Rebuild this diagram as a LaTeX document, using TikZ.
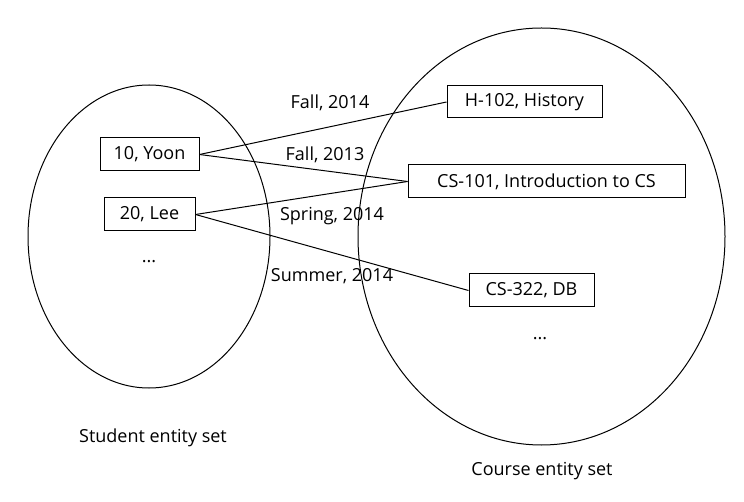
\documentclass[tikz,border=0pt]{standalone}
\usepackage{fontspec}
\setmainfont{Open Sans}
\begin{document}
\begin{tikzpicture}[x=1pt,y=-1pt,
  ent/.style={draw, line width=1pt, inner sep=0pt, anchor=center, font=\fontsize{18}{22}\selectfont},
  lbl/.style={font=\fontsize{18}{22}\selectfont, inner sep=0pt},
  conn/.style={line width=1pt},
  set/.style={draw, line width=1pt}]
\useasboundingbox (0,0) rectangle (744,502);
% entity sets
\draw[set] (149,236.5) ellipse [x radius=121, y radius=151.5];
\draw[set] (541.5,236.5) ellipse [x radius=183.5, y radius=208.5];
% entities
\node[ent, minimum width=99pt, minimum height=33pt] (yoon) at (149.5,154.5) {10, Yoon};
\node[ent, minimum width=91pt, minimum height=33pt] (lee) at (149.5,214.5) {20, Lee};
\node[ent, minimum width=155pt, minimum height=32pt] (hist) at (524.5,102) {H-102, History};
\node[ent, minimum width=277pt, minimum height=33pt] (cs101) at (546.5,181.5) {CS-101, Introduction to CS};
\node[ent, minimum width=125pt, minimum height=33pt] (cs322) at (531.5,290.5) {CS-322, DB};
\node[lbl] (ldots) at (149,262) {...};
\node[lbl] (rdots) at (540,339) {...};
% connectors
\draw[conn] (yoon.east) -- (hist.west);
\draw[conn] (yoon.east) -- (cs101.west);
\draw[conn] (lee.east) -- (cs101.west);
\draw[conn] (lee.east) -- (cs322.west);
% relationship labels
\node[lbl] (l1) at (330,103) {Fall, 2014};
\node[lbl] (l2) at (325,155) {Fall, 2013};
\node[lbl] (l3) at (332,216) {Spring, 2014};
\node[lbl] (l4) at (332,276) {Summer, 2014};
% set names
\node[lbl] (sname) at (153,438) {Student entity set};
\node[lbl] (cname) at (542,471) {Course entity set};
\end{tikzpicture}
\end{document}
